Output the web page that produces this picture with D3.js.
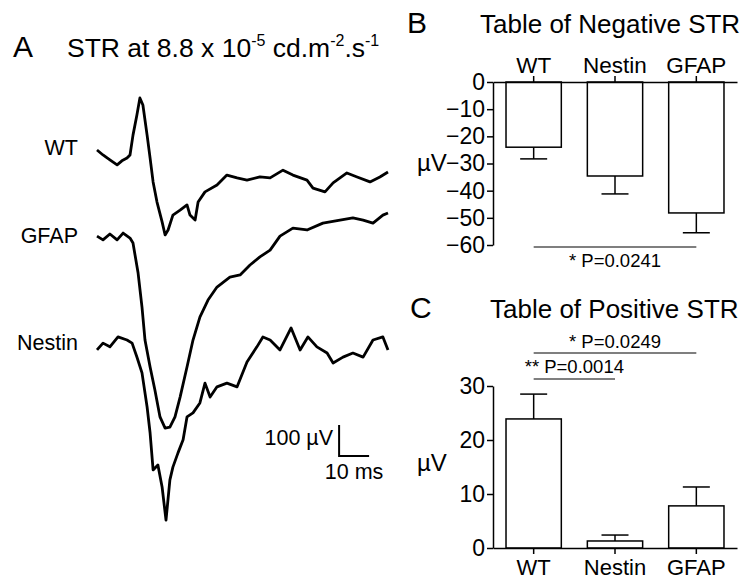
<!DOCTYPE html>
<html>
<head>
<meta charset="utf-8">
<script src="https://cdn.jsdelivr.net/npm/d3@7"></script>
<style>
    body { margin: 0; background: #fff; }
    text { font-family: "Liberation Sans", Arial, sans-serif; fill: #000; }
</style>
</head>
<body>
<div id="figure"></div>
<script>

// Bar chart data (mean and SEM, in µV)
var categories = ["WT", "Nestin", "GFAP"];
var negMean = [-24.0, -34.6, -48.2];
var negSem = [4.3, 6.6, 7.3];
var posMean = [23.9, 1.3, 7.8];
var posSem = [4.6, 1.1, 3.5];
var negTicks = [0, -10, -20, -30, -40, -50, -60];
var posTicks = [0, 10, 20, 30];

// Traces: [time in ms, µV relative to the trace baseline]
var wtTrace = [[0,0],[2,-16],[4.3,-32],[6.7,-48],[8.3,-35],[10,-26],[11,-16],[12,48],[13.3,113],[14.3,168],
    [15.3,145],[16.7,48],[17.7,-26],[18.7,-103],[20,-168],[21.7,-232],[22.7,-274],[23.7,-258],[25.3,-210],
    [27.7,-194],[30,-177],[31,-210],[32.7,-226],[33.7,-168],[36,-135],[40,-113],[43.3,-81],[46.7,-90],
    [50,-97],[54.3,-87],[57.7,-90],[62,-65],[65.3,-81],[70,-97],[72,-123],[76,-135],[78.7,-106],
    [83.3,-74],[86.7,-87],[91,-103],[94.3,-87],[97,-71]];

var gfapTrace = [[0,6],[2,-6],[4.3,13],[6.7,-6],[8.7,16],[11,0],[12,-16],[13.7,-113],[15,-223],[16,-329],
    [17.7,-416],[19.3,-490],[21,-577],[22.7,-613],[24.3,-610],[26,-577],[27.7,-513],[30,-416],[32,-329],
    [34.3,-255],[37,-200],[40,-158],[44.3,-126],[47.7,-119],[51,-87],[54.3,-61],[57.7,-39],[61,6],
    [65.3,32],[70,26],[75.3,48],[81,58],[85.3,65],[88.7,58],[92,48],[95.3,74],[97,81]];

var nestinTrace = [[0,-16],[2,6],[4.3,-6],[7,26],[10,16],[11.7,6],[13.3,-39],[15,-90],[16.7,-200],[17.7,-284],
    [18.7,-403],[20.3,-387],[21.7,-458],[23,-565],[24.3,-435],[25.3,-394],[27,-348],[28.7,-306],[30,-232],
    [32,-219],[34.3,-187],[36,-123],[37.7,-168],[40,-135],[43.3,-123],[46.7,-135],[50,-55],[53.3,-6],
    [55.3,26],[57.7,16],[61,-16],[64.7,55],[67.7,-16],[70.3,26],[73.3,-6],[76.7,-26],[78.7,-58],
    [82,-39],[85.3,-26],[88.7,-39],[92,16],[95.3,26],[97,-16]];

var traceNames = ["WT", "GFAP", "Nestin"];
var traceData = [wtTrace, gfapTrace, nestinTrace];

// Layout
var width = 756, height = 579;
var traceOffsets = [0, -284, -629];   // vertical spacing of the traces, µV
var font = '"Liberation Sans", Arial, sans-serif';

var svg = d3.select("#figure")
    .append("svg")
    .attr("width", width)
    .attr("height", height);

// ---------- Panel A: traces ----------
var t = d3.scaleLinear().domain([0, 97]).range([97, 388]);
var v = d3.scaleLinear().domain([0, -100]).range([150, 181]);

svg.append("text").attr("x", 13).attr("y", 57).style("font-size", "30px").text("A");

var titleA = svg.append("text").attr("x", 67).attr("y", 57).style("font-size", "26.5px");
titleA.append("tspan").text("STR at 8.8 x 10");
titleA.append("tspan").attr("dy", -11).style("font-size", "16px").text("-5");
titleA.append("tspan").attr("dy", 11).text(" cd.m");
titleA.append("tspan").attr("dy", -11).style("font-size", "16px").text("-2");
titleA.append("tspan").attr("dy", 11).text(".s");
titleA.append("tspan").attr("dy", -11).style("font-size", "16px").text("-1");

var line = d3.line()
    .x(function(d) { return t(d[0]); })
    .y(function(d) { return d[1]; });

traceData.forEach(function(trace, i) {
    var pts = trace.map(function(d) { return [d[0], v(d[1] + traceOffsets[i])]; });
    svg.append("path")
        .datum(pts)
        .attr("fill", "none")
        .attr("stroke", "#000")
        .attr("stroke-width", 2.8)
        .attr("stroke-linejoin", "round")
        .attr("d", line);

    svg.append("text")
        .attr("x", 78)
        .attr("y", v(traceOffsets[i]) + 5)
        .style("text-anchor", "end")
        .style("font-size", "21.5px")
        .text(traceNames[i]);
});

// Scale bar: 100 µV by 10 ms
var barT = 80.7, barV = -987;
svg.append("path")
    .attr("fill", "none")
    .attr("stroke", "#000")
    .attr("stroke-width", 2)
    .attr("d", "M" + t(barT) + "," + v(barV + 100) + "V" + v(barV) + "H" + t(barT + 10));

svg.append("text")
    .attr("x", t(barT) - 6)
    .attr("y", v(barV + 100) + 20)
    .style("text-anchor", "end")
    .style("font-size", "21.5px")
    .text("100 µV");

svg.append("text")
    .attr("x", t(barT + 5))
    .attr("y", v(barV) + 23)
    .style("text-anchor", "middle")
    .style("font-size", "21.5px")
    .text("10 ms");

// ---------- shared bar chart helper ----------
var x = d3.scaleBand()
    .domain(categories)
    .range([493, 737])
    .paddingInner(0.32)
    .paddingOuter(0.16);

function drawBars(g, means, sems, y) {
    categories.forEach(function(c, i) {
        var top = Math.min(y(0), y(means[i]));
        var h = Math.abs(y(means[i]) - y(0));
        g.append("rect")
            .attr("x", x(c))
            .attr("y", top)
            .attr("width", x.bandwidth())
            .attr("height", h)
            .attr("fill", "#fff")
            .attr("stroke", "#000")
            .attr("stroke-width", 1.5);

        var end = means[i] + (means[i] < 0 ? -sems[i] : sems[i]);
        var cx = x(c) + x.bandwidth() / 2;
        g.append("line")
            .attr("x1", cx).attr("x2", cx)
            .attr("y1", y(means[i])).attr("y2", y(end))
            .attr("stroke", "#000").attr("stroke-width", 1.5);
        g.append("line")
            .attr("x1", cx - 13.5).attr("x2", cx + 13.5)
            .attr("y1", y(end)).attr("y2", y(end))
            .attr("stroke", "#000").attr("stroke-width", 1.5);
    });
}

function styleAxis(g, size) {
    g.selectAll("path, line").attr("stroke", "#000").attr("stroke-width", 1.5);
    g.selectAll("text").style("font-family", font).style("font-size", size).attr("fill", "#000");
}

function sigLine(g, from, to, yPos, label, labelY) {
    var x1 = x(from) + x.bandwidth() / 2;
    var x2 = x(to) + x.bandwidth() / 2;
    g.append("line")
        .attr("x1", x1).attr("x2", x2)
        .attr("y1", yPos).attr("y2", yPos)
        .attr("stroke", "#000").attr("stroke-width", 1.2);
    g.append("text")
        .attr("x", (x1 + x2) / 2)
        .attr("y", labelY)
        .style("text-anchor", "middle")
        .style("font-size", "18.5px")
        .text(label);
}

// ---------- Panel B: negative STR ----------
var yNeg = d3.scaleLinear().domain([-60, 0]).range([245, 82]);
var gB = svg.append("g");

svg.append("text").attr("x", 407).attr("y", 33).style("font-size", "30px").text("B");
svg.append("text").attr("x", 480).attr("y", 33).style("font-size", "26px").text("Table of Negative STR");

drawBars(gB, negMean, negSem, yNeg);

gB.append("g")
    .attr("transform", "translate(493,0)")
    .call(d3.axisLeft(yNeg).tickValues(negTicks).tickSize(6).tickPadding(2).tickSizeOuter(0))
    .call(styleAxis, "23px");

gB.append("g")
    .attr("transform", "translate(0," + yNeg(0) + ")")
    .call(d3.axisTop(x).tickSize(6).tickPadding(3).tickSizeOuter(0))
    .call(styleAxis, "22.5px");

svg.append("text").attr("x", 417).attr("y", 171).style("font-size", "24px").text("µV");

sigLine(gB, "WT", "GFAP", 247, "* P=0.0241", 267);

// ---------- Panel C: positive STR ----------
var yPos = d3.scaleLinear().domain([0, 30]).range([548, 386]);
var gC = svg.append("g");

svg.append("text").attr("x", 410).attr("y", 318).style("font-size", "30px").text("C");
svg.append("text").attr("x", 490).attr("y", 318).style("font-size", "26px").text("Table of Positive STR");

drawBars(gC, posMean, posSem, yPos);

gC.append("g")
    .attr("transform", "translate(493,0)")
    .call(d3.axisLeft(yPos).tickValues(posTicks).tickSize(6).tickPadding(2).tickSizeOuter(0))
    .call(styleAxis, "23px");

gC.append("g")
    .attr("transform", "translate(0," + yPos(0) + ")")
    .call(d3.axisBottom(x).tickSize(6).tickPadding(5).tickSizeOuter(0))
    .call(styleAxis, "22px");

svg.append("text").attr("x", 417).attr("y", 471).style("font-size", "24px").text("µV");

sigLine(gC, "WT", "GFAP", 353, "* P=0.0249", 348);
sigLine(gC, "WT", "Nestin", 379, "** P=0.0014", 373);

</script>
</body>
</html>
